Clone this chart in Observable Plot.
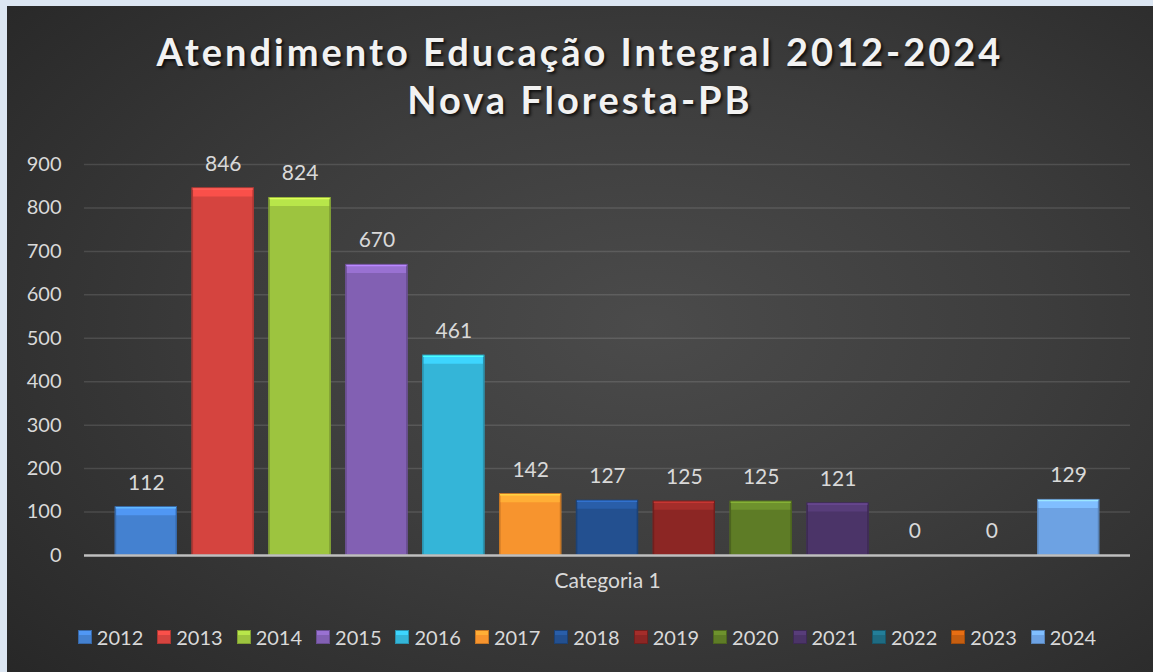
<!DOCTYPE html>
<html>
<head>
<meta charset="utf-8">
<script src="https://cdn.jsdelivr.net/npm/d3@7"></script>
<script src="https://cdn.jsdelivr.net/npm/@observablehq/plot@0.6"></script>
<style>
  html, body { margin: 0; padding: 0; }
  body { background: #dce6f2; width: 1153px; height: 672px; overflow: hidden; font-family: Lato, "Open Sans", sans-serif; }
  #panel {
    position: absolute; left: 7px; top: 6px; width: 1146px; height: 666px;
    background: radial-gradient(ellipse 75% 80% at 56% 48%, #4b4b4b 0%, #3d3d3d 45%, #272727 100%);
  }
  #title {
    padding-top: 21px; text-align: center; color: #f2f2f2;
    font: bold 38px Lato, sans-serif; line-height: 48px; letter-spacing: 3px;
    text-shadow: 2px 2px 3px rgba(0,0,0,0.75);
  }
  #chart svg { display: block; }
  #legend {
    display: flex; justify-content: center; align-items: center;
    margin-top: 22px; height: 24px; color: #d9d9d9; font-size: 20px; padding-left: 14px;
  }
  .item { display: flex; align-items: center; margin: 0 7px; }
  .sw { width: 14px; height: 14px; margin-right: 5px; box-sizing: border-box; }
</style>
</head>
<body>
<div id="panel">
  <div id="title">Atendimento Educação Integral 2012-2024<br>Nova Floresta-PB</div>
  <div id="chart"></div>
  <div id="legend"></div>
</div>
<script>
const years = ["2012","2013","2014","2015","2016","2017","2018","2019","2020","2021","2022","2023","2024"];
const values = [112, 846, 824, 670, 461, 142, 127, 125, 125, 121, 0, 0, 129];
const colors = ["#4481d0","#d5443f","#9dc43f","#8260b3","#34b5d8","#f7942e","#235090","#8c2624","#5e7c26","#4b3468","#1e6b82","#c65e10","#6da2e3"];
const yTicks = [0, 100, 200, 300, 400, 500, 600, 700, 800, 900];
const categoryLabel = "Categoria 1";

const data = years.map((y, i) => {
  const c = d3.color(colors[i]);
  return {
    year: y, value: values[i], base: colors[i],
    light: c.brighter(0.45).formatHex(),
    lighter: c.brighter(1.0).formatHex(),
    dark: c.darker(0.6).formatHex()
  };
});
const nonZero = data.filter(d => d.value > 0);

const chart = Plot.plot({
  width: 1146, height: 480,
  marginLeft: 77, marginRight: 23, marginTop: 41, marginBottom: 48,
  style: { background: "transparent", color: "#d9d9d9", fontFamily: "Lato, sans-serif", fontSize: "20px", overflow: "visible" },
  x: { domain: years, paddingInner: 0.19, paddingOuter: 0.4, round: false, axis: null },
  y: { domain: [0, 900], ticks: yTicks, tickSize: 0, tickPadding: 23, label: null },
  color: { type: "identity" },
  marks: [
    Plot.ruleY(yTicks.slice(1), { stroke: "#ffffff", strokeOpacity: 0.12, strokeWidth: 1.5 }),
    Plot.barY(nonZero, { x: "year", y: "value", fill: "base" }),
    Plot.barY(nonZero, { x: "year", y: "value", fill: "none", stroke: "dark", strokeWidth: 1.5, insetLeft: 0.75, insetRight: 0.75, insetTop: 0.75 }),
    Plot.tickY(nonZero, { x: "year", y: "value", stroke: "light", strokeWidth: 8, dy: 4.5, insetLeft: 1.5, insetRight: 1.5 }),
    Plot.tickY(nonZero, { x: "year", y: "value", stroke: "lighter", strokeWidth: 1.5, dy: 1, insetLeft: 1, insetRight: 1 }),
    Plot.ruleY([0], { stroke: "#bfbfbf", strokeWidth: 2.5 }),
    Plot.text(data, { x: "year", y: "value", text: d => String(d.value), dy: -24, fill: "#d9d9d9", fontSize: 21 }),
    Plot.text([categoryLabel], { frameAnchor: "bottom", dy: 32, fill: "#d9d9d9", fontSize: 21 })
  ]
});
document.getElementById("chart").append(chart);

const legend = document.getElementById("legend");
data.forEach(d => {
  const item = document.createElement("div");
  item.className = "item";
  const sw = document.createElement("div");
  sw.className = "sw";
  sw.style.background = d.base;
  sw.style.border = "1px solid " + d.dark;
  sw.style.boxShadow = "inset 0 4px 0 " + d.light;
  const t = document.createElement("span");
  t.textContent = d.year;
  item.append(sw, t);
  legend.append(item);
});
</script>
</body>
</html>
